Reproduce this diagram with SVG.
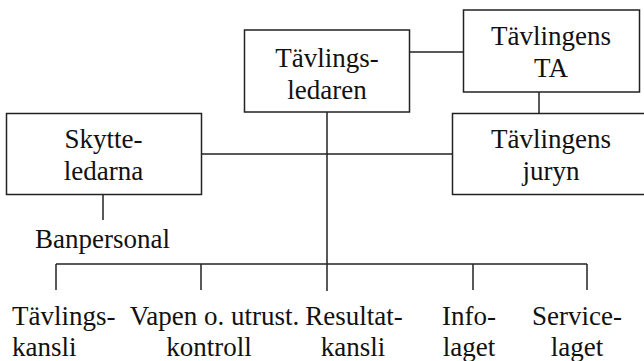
<svg xmlns="http://www.w3.org/2000/svg" width="644" height="361" viewBox="0 0 644 361">
<style>
.box{fill:#fff;stroke:#222;stroke-width:1.5}
.ln{stroke:#222;stroke-width:1.5;fill:none}
.c{text-anchor:middle}
</style>
<rect width="644" height="361" fill="#fff"/>
<g id="connectors">
<line class="ln" x1="410" y1="52" x2="463" y2="52"/>
<line class="ln" x1="539" y1="92" x2="539" y2="113"/>
<line class="ln" x1="202" y1="154" x2="452" y2="154"/>
<line class="ln" x1="327" y1="112" x2="327" y2="291"/>
<line class="ln" x1="103" y1="194" x2="103" y2="220"/>
<line class="ln" x1="56" y1="264" x2="587" y2="264"/>
<line class="ln" x1="56" y1="264" x2="56" y2="290"/>
<line class="ln" x1="201" y1="264" x2="201" y2="290"/>
<line class="ln" x1="473" y1="264" x2="473" y2="290"/>
<line class="ln" x1="587" y1="264" x2="587" y2="290"/>
</g>
<g font-family="Liberation Serif, DejaVu Serif, serif" font-size="27" fill="#111">
<g id="tavlingsledaren">
<rect class="box" x="244.5" y="30" width="165" height="82"/>
<text class="c" x="327" y="67">Tävlings-</text>
<text class="c" x="327" y="99">ledaren</text>
</g>
<g id="tavlingens-ta">
<rect class="box" x="463.5" y="10" width="176" height="82"/>
<text class="c" x="551" y="45">Tävlingens</text>
<text class="c" x="551" y="77">TA</text>
</g>
<g id="tavlingens-juryn">
<rect class="box" x="452.5" y="113.5" width="200" height="81"/>
<text class="c" x="551" y="148">Tävlingens</text>
<text class="c" x="551" y="180">juryn</text>
</g>
<g id="skytteledarna">
<rect class="box" x="6.5" y="113.5" width="195" height="81"/>
<text class="c" x="103.5" y="148">Skytte-</text>
<text class="c" x="103.5" y="180">ledarna</text>
</g>
<g id="banpersonal">
<text class="c" x="102.5" y="248">Banpersonal</text>
</g>
<g id="tavlingskansli">
<text x="12" y="325">Tävlings-</text>
<text x="12" y="356">kansli</text>
</g>
<g id="vapenkontroll">
<text class="c" x="214.5" y="325">Vapen o. utrust.</text>
<text class="c" x="209" y="356">kontroll</text>
</g>
<g id="resultatkansli">
<text class="c" x="354" y="325">Resultat-</text>
<text class="c" x="353" y="356">kansli</text>
</g>
<g id="infolaget">
<text class="c" x="469" y="325">Info-</text>
<text class="c" x="469" y="356">laget</text>
</g>
<g id="servicelaget">
<text class="c" x="577" y="325">Service-</text>
<text class="c" x="577" y="356">laget</text>
</g>
</g>
</svg>
